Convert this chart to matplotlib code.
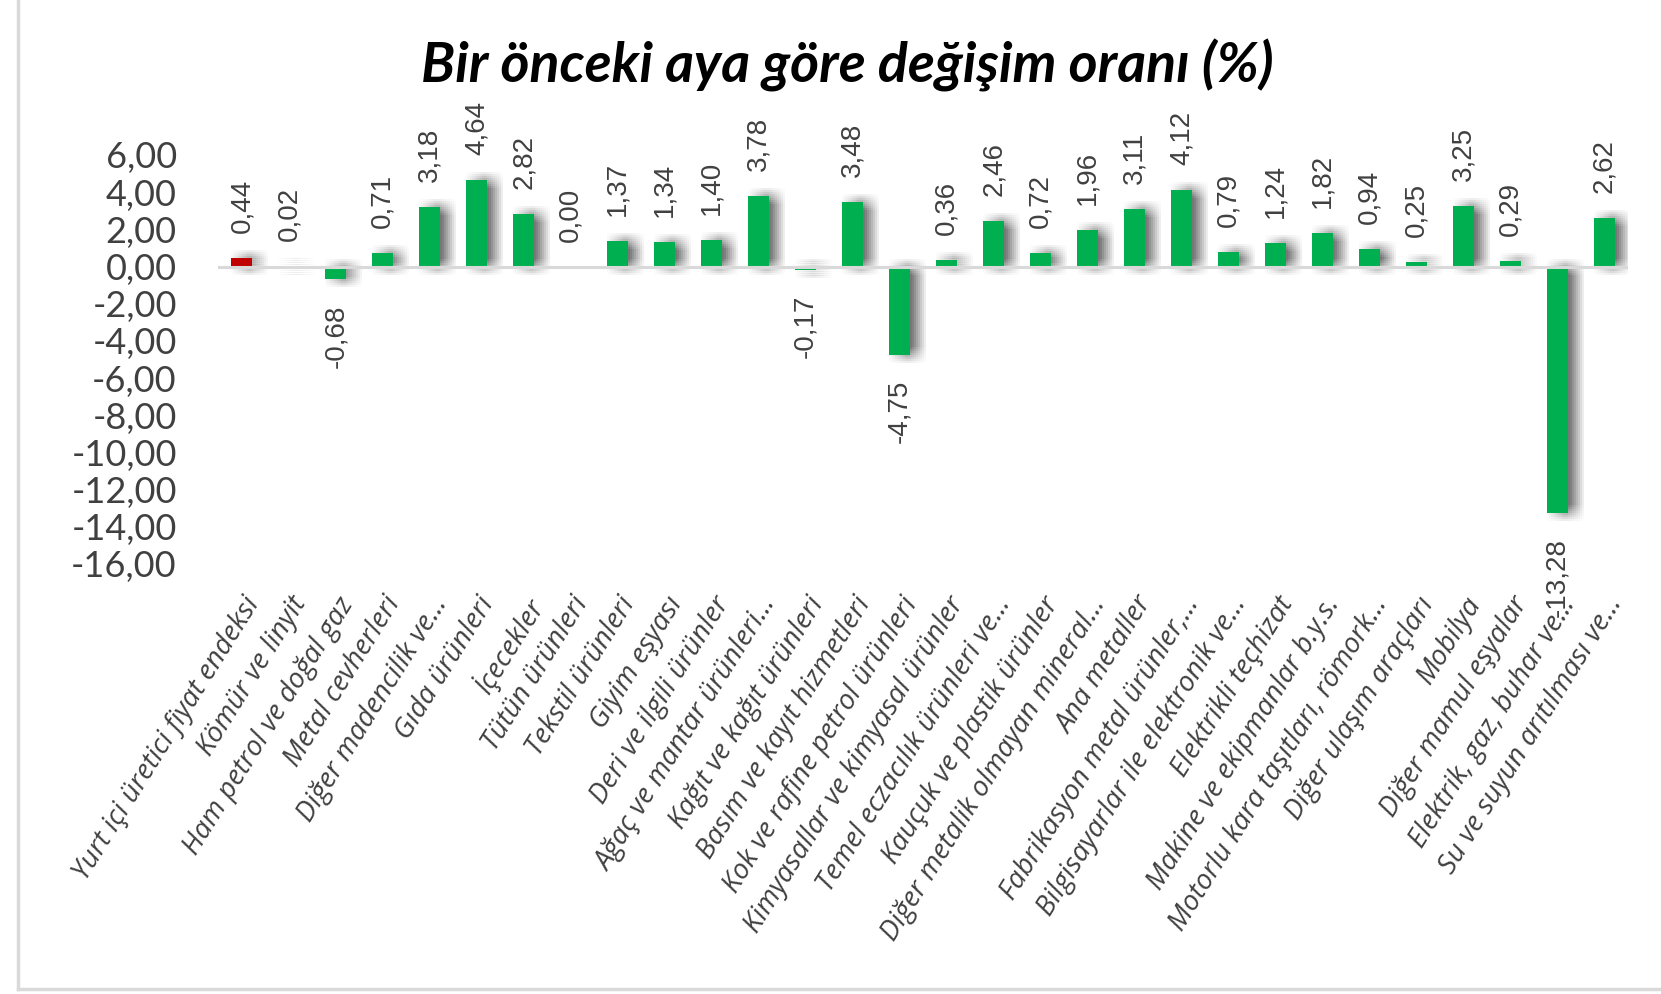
import numpy as np
import matplotlib
matplotlib.use("Agg")
import matplotlib.pyplot as plt
import matplotlib.patheffects as pe
from matplotlib.lines import Line2D

categories = [
    "Yurt içi üretici fiyat endeksi", "Kömür ve linyit", "Ham petrol ve doğal gaz",
    "Metal cevherleri", "Diğer madencilik ve...", "Gıda ürünleri", "İçecekler",
    "Tütün ürünleri", "Tekstil ürünleri", "Giyim eşyası", "Deri ve ilgili ürünler",
    "Ağaç ve mantar ürünleri...", "Kağıt ve kağıt ürünleri", "Basım ve kayıt hizmetleri",
    "Kok ve rafine petrol ürünleri", "Kimyasallar ve kimyasal ürünler",
    "Temel eczacılık ürünleri ve...", "Kauçuk ve plastik ürünler",
    "Diğer metalik olmayan mineral...", "Ana metaller", "Fabrikasyon metal ürünler,...",
    "Bilgisayarlar ile elektronik ve...", "Elektrikli teçhizat",
    "Makine ve ekipmanlar b.y.s.", "Motorlu kara taşıtları, römork...",
    "Diğer ulaşım araçları", "Mobilya", "Diğer mamul eşyalar",
    "Elektrik, gaz, buhar ve...", "Su ve suyun arıtılması ve...",
]
values = [0.44, 0.02, -0.68, 0.71, 3.18, 4.64, 2.82, 0.00, 1.37, 1.34, 1.40,
          3.78, -0.17, 3.48, -4.75, 0.36, 2.46, 0.72, 1.96, 3.11, 4.12, 0.79,
          1.24, 1.82, 0.94, 0.25, 3.25, 0.29, -13.28, 2.62]
yticks = [6, 4, 2, 0, -2, -4, -6, -8, -10, -12, -14, -16]

GREEN = "#00B050"
RED = "#C00000"
TXT = "#404040"

def fmt(v):
    return f"{v:.2f}".replace(".", ",")

fig = plt.figure(figsize=(16.61, 9.94), dpi=100)
ax = fig.add_axes([0.1315, 0.4326, 0.8486, 0.4115])

x = np.arange(len(values))
colors = [RED] + [GREEN] * (len(values) - 1)

# soft blurred shadow built from many faint offset copies
px = 72 / 100
shadow = []
for dx in range(0, 17, 2):
    for dy in range(-8, 9, 2):
        shadow.append(pe.SimplePatchShadow(offset=(dx * px, dy * px),
                                           shadow_rgbFace="black", alpha=0.0065))
shadow.append(pe.Normal())

bars = ax.bar(x, values, width=0.45, color=colors, zorder=2)
for b in bars:
    b.set_path_effects(shadow)

ax.axhline(0, color="#d9d9d9", lw=2.2, zorder=3)

for xi, v in zip(x, values):
    off = 18 if v >= 0 else -18
    ax.annotate(fmt(v), (xi, v), xytext=(0, off), textcoords="offset points",
                rotation=90, ha="center", va="bottom" if v >= 0 else "top",
                fontsize=20, family="Liberation Sans", color=TXT, zorder=4)

ax.set_xlim(-0.5, len(values) - 0.5)
ax.set_ylim(-16, 6)
ax.set_yticks(yticks)
ax.set_yticklabels([fmt(t) for t in yticks], family="Lato", fontsize=26, color=TXT)
ax.tick_params(axis="y", length=0, pad=30)
ax.set_xticks(x)
ax.set_xticklabels(categories, rotation=58, ha="right", rotation_mode="anchor",
                   family="Open Sans", style="italic", fontsize=20, color=TXT)
ax.tick_params(axis="x", length=0, pad=20)
for s in ax.spines.values():
    s.set_visible(False)

fig.text(0.51, 0.934, "Bir önceki aya göre değişim oranı (%)", ha="center", va="center",
         family="Lato", weight="bold", style="italic", fontsize=40, color="black")

# chart frame (left and bottom edges visible)
fig.add_artist(Line2D([0.011, 0.011], [0.005, 1.0], color="#d9d9d9", lw=2.5))
fig.add_artist(Line2D([0.011, 1.0], [0.005, 0.005], color="#d9d9d9", lw=2.5))

fig.savefig("out.png", dpi=100)
